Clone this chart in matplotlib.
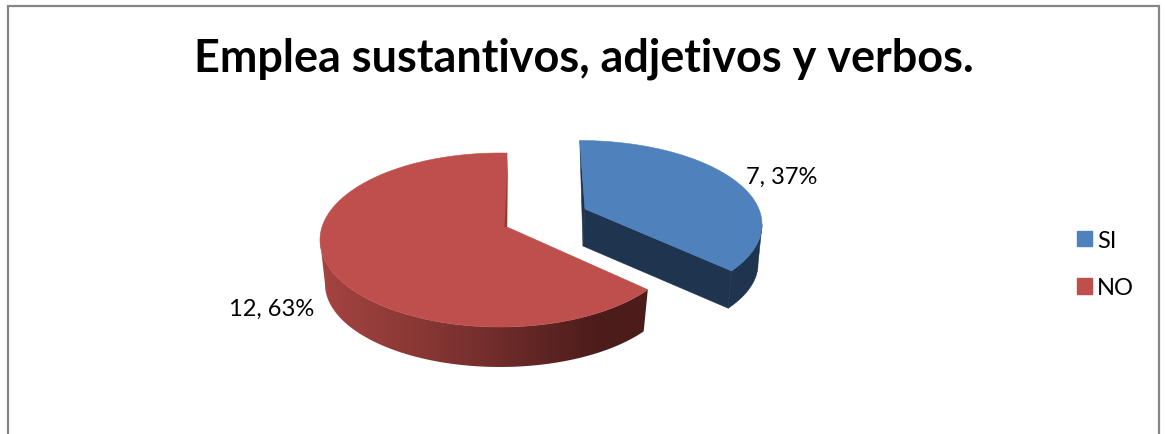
"""3D looking exploded pie: Emplea sustantivos, adjetivos y verbos."""

import numpy as np
import matplotlib
matplotlib.use("Agg")
import matplotlib.pyplot as plt
import matplotlib.patches as mpatches
from matplotlib.colors import LinearSegmentedColormap

TITLE = "Emplea sustantivos, adjetivos y verbos."
LABELS = ["SI", "NO"]
VALUES = [7, 12]

FONT = "Lato"
COLOR_TOP = ["#4F81BD", "#BE4F4C"]
FRAME = "#868686"

# slice shapes in pixels: apex, top ellipse, bottom ellipse
SHAPES = [
    {"apex": (585, 210), "apex_low": (583, 247), "top": (579, 225.5, 183, 84),
     "low": (579, 265, 179, 80), "lean": -2.0},
    {"apex": (507, 228), "apex_low": (504.5, 228), "top": (500, 241, 180, 87),
     "low": (500, 285, 175, 83), "lean": 0.0},
]
LABEL_POS = [(746, 177, "left"), (314, 309, "right")]


def rim_angle(shape, t_deg):
    """Angle on the top ellipse where the ray from the apex lands."""
    cx, cy, a, b = shape["top"]
    px = (shape["apex"][0] - cx) / a
    py = (cy - shape["apex"][1]) / b
    t = np.radians(t_deg)
    dx, dy = np.sin(t), np.cos(t)
    pd = px * dx + py * dy
    s = -pd + np.sqrt(pd ** 2 - (px ** 2 + py ** 2) + 1)
    return np.arctan2(px + s * dx, py + s * dy) % (2 * np.pi)


def on_ellipse(ell, phi):
    cx, cy, a, b = ell
    return cx + a * np.sin(phi), cy - b * np.cos(phi)


def wall_outline(shape, phi_a, phi_b, n=120):
    """Top rim one way, bottom rim back."""
    arc = np.linspace(phi_a, phi_b, n)
    x0, y0 = on_ellipse(shape["top"], arc)
    x1, y1 = on_ellipse(shape["low"], arc[::-1])
    return np.r_[x0, x1], np.r_[y0, y1]


fig = plt.figure(figsize=(11.65, 4.35), dpi=100)
ax = fig.add_axes([0, 0, 1, 1])

# chart frame, the bottom edge is cut off in the original
ax.plot([7.5, 7.5, 1159, 1159], [435, 6.5, 6.5, 435], color=FRAME, lw=1.6,
        solid_joinstyle="miter", zorder=1)

ax.text(584, 59, TITLE, fontsize=32.4, fontweight="bold", family=FONT,
        ha="center", va="center", color="black")

total = sum(VALUES)
starts = np.cumsum([0] + VALUES[:-1]) / total * 360
ends = np.cumsum(VALUES) / total * 360

# --- SI slice ---
si = SHAPES[0]
phi0 = rim_angle(si, starts[0] + si["lean"])
phi1 = rim_angle(si, ends[0])
if phi0 > phi1:
    phi0 -= 2 * np.pi
wx, wy = wall_outline(si, np.pi / 2, phi1)
ax.fill(wx, wy, color="#1F344F", lw=0.4, zorder=2)
end_top = on_ellipse(si["top"], phi1)
end_low = on_ellipse(si["low"], phi1)
ax.fill([si["apex"][0], end_top[0], end_low[0], si["apex_low"][0]],
        [si["apex"][1], end_top[1], end_low[1], si["apex_low"][1]],
        color="#1F344F", lw=0.4, zorder=2)
start_top = on_ellipse(si["top"], phi0)
ax.fill([start_top[0], si["apex"][0], si["apex_low"][0]],
        [start_top[1], si["apex"][1], si["apex_low"][1]],
        color="#1F344F", lw=0.4, zorder=2)
arc = np.linspace(phi0, phi1, 120)
xs, ys = on_ellipse(si["top"], arc)
ax.fill(np.r_[si["apex"][0], xs], np.r_[si["apex"][1], ys],
        color=COLOR_TOP[0], lw=0.4, zorder=3)

# --- NO slice ---
no = SHAPES[1]
phi0 = rim_angle(no, starts[1] + no["lean"])
phi1 = rim_angle(no, ends[1] - 1e-6)
if phi1 < phi0:
    phi1 += 2 * np.pi

# side wall shaded left to right
wx, wy = wall_outline(no, phi0, 1.5 * np.pi)
wall = ax.fill(wx, wy, color="none", lw=0, zorder=2)[0]
shade = LinearSegmentedColormap.from_list(
    "wall", [(0, "#A54441"), (0.45, "#7A312F"), (0.85, "#4C1C1B"), (1, "#4C1C1B")])
img = ax.imshow(np.linspace(0, 1, 256)[None, :], cmap=shade, aspect="auto",
                extent=(wx.min(), wx.max(), wy.max(), wy.min()), zorder=2)
img.set_clip_path(wall)

arc = np.linspace(phi0, phi1, 200)
xs, ys = on_ellipse(no["top"], arc)
ax.fill(np.r_[no["apex"][0], xs], np.r_[no["apex"][1], ys],
        color=COLOR_TOP[1], lw=0.4, zorder=3)
end_top = on_ellipse(no["top"], phi1)
ax.fill([end_top[0] + 1, no["apex"][0], no["apex_low"][0]],
        [end_top[1], no["apex"][1], no["apex_low"][1]],
        color="#8F3C39", lw=0, zorder=4)

# data labels
for val, (lx, ly, ha) in zip(VALUES, LABEL_POS):
    ax.text(lx, ly, f"{val}, {round(100 * val / total)}%", fontsize=17, family=FONT,
            ha=ha, va="center", color="black", zorder=5)

ax.set_xlim(0, 1165)
ax.set_ylim(435, 0)
ax.axis("off")

handles = [mpatches.Patch(color=c) for c in COLOR_TOP]
ax.legend(handles, LABELS, loc="center left",
          bbox_to_anchor=(1077, 265), bbox_transform=ax.transData,
          frameon=False, prop={"family": FONT, "size": 17},
          handlelength=0.635, handleheight=0.635, handletextpad=0.21,
          labelspacing=1.12, borderpad=0, borderaxespad=0)

fig.savefig("out.png", dpi=100)
plt.close(fig)
